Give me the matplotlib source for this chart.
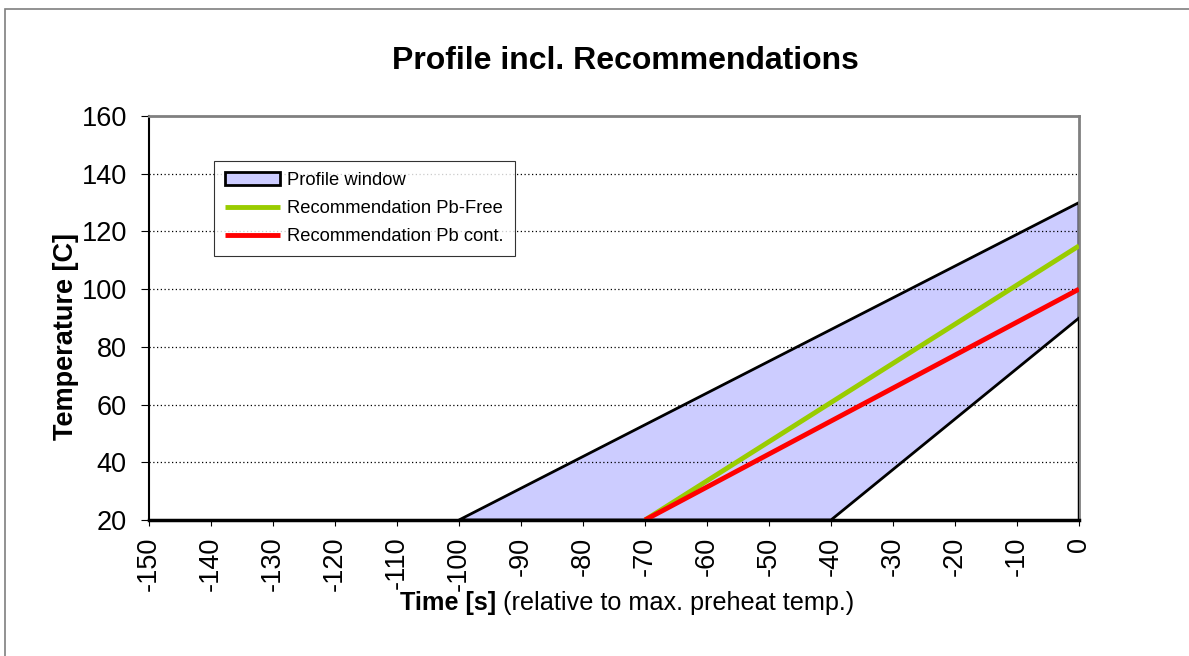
import matplotlib
matplotlib.use('Agg')
import matplotlib.pyplot as plt
from matplotlib.patches import Polygon, Rectangle

plt.rcParams['font.family'] = ['Liberation Sans', 'DejaVu Sans']

# profile window corners (time [s], temperature [C])
window_t = [-100, 0, 0, -40]
window_temp = [20, 130, 90, 20]

# recommendations
pbfree_t = [-70, 0]
pbfree_temp = [20, 115]
pbcont_t = [-70, 0]
pbcont_temp = [20, 100]

x_ticks = list(range(-150, 1, 10))
y_ticks = list(range(20, 161, 20))

W, H = 1189, 656
fig = plt.figure(figsize=(W / 100, H / 100), dpi=100)
ax = fig.add_axes([149 / W, 1 - 520 / H, 930 / W, 404 / H])

# outer chart-area frame (runs off the right/bottom edge)
fig.patches.append(Rectangle((5 / W, -0.05), 1.1, 1 - 9 / H + 0.05,
                             transform=fig.transFigure, fill=False,
                             edgecolor='#7f7f7f', linewidth=1.2))

# gridlines
for y in y_ticks[1:-1]:
    ax.axhline(y, color='black', linestyle=(0, (1, 2)), linewidth=0.9, zorder=3)

win = Polygon(list(zip(window_t, window_temp)), closed=True,
              facecolor='#ccccff', edgecolor='black', linewidth=2, zorder=2,
              label='Profile window')
ax.add_patch(win)
ax.plot([0, 0], [20, 90], color='black', linewidth=2.5, zorder=4)

ax.plot(pbfree_t, pbfree_temp, color='#99cc00', linewidth=3.5, zorder=5,
        label='Recommendation Pb-Free', solid_capstyle='butt')
ax.plot(pbcont_t, pbcont_temp, color='#ff0000', linewidth=3.5, zorder=5,
        label='Recommendation Pb cont.', solid_capstyle='butt')

ax.set_xlim(-150, 0)
ax.set_ylim(20, 160)
ax.set_xticks(x_ticks)
ax.set_yticks(y_ticks)
ax.set_xticklabels([str(v) for v in x_ticks], rotation=90, fontsize=19.5)
ax.tick_params(axis='y', labelsize=19.5, length=6, width=0.8, pad=10)
ax.tick_params(axis='x', length=4, width=0.8, pad=8)

for side in ['top', 'right']:
    ax.spines[side].set_color('#808080')
    ax.spines[side].set_linewidth(2)
ax.spines['left'].set_linewidth(1.5)
ax.spines['bottom'].set_linewidth(2.5)
ax.spines['bottom'].set_zorder(6)

fig.text(66 / W, 1 - 337 / H, 'Temperature [C]', fontsize=19.5,
         fontweight='bold', rotation=90, ha='center', va='center')

fig.text(625 / W, 1 - 69 / H, 'Profile incl. Recommendations', fontsize=23,
         fontweight='bold', ha='center', va='baseline')

t1 = fig.text(400 / W, 1 - 610 / H, 'Time [s]', fontsize=18.2, fontweight='bold',
              ha='left', va='baseline')
ax.annotate(' (relative to max. preheat temp.)', xy=(1, 0), xycoords=t1,
            fontsize=18.2, ha='left', va='bottom', annotation_clip=False)

leg = ax.legend(loc='upper left', bbox_to_anchor=(65 / 930, 1 - 45 / 404),
                frameon=True, fancybox=False, fontsize=13.2, borderaxespad=0,
                handlelength=3.0, handletextpad=0.4, labelspacing=0.6,
                borderpad=0.6)
leg.get_frame().set_edgecolor('black')
leg.get_frame().set_linewidth(0.8)
leg.set_zorder(10)

fig.savefig('out.png', dpi=100)
